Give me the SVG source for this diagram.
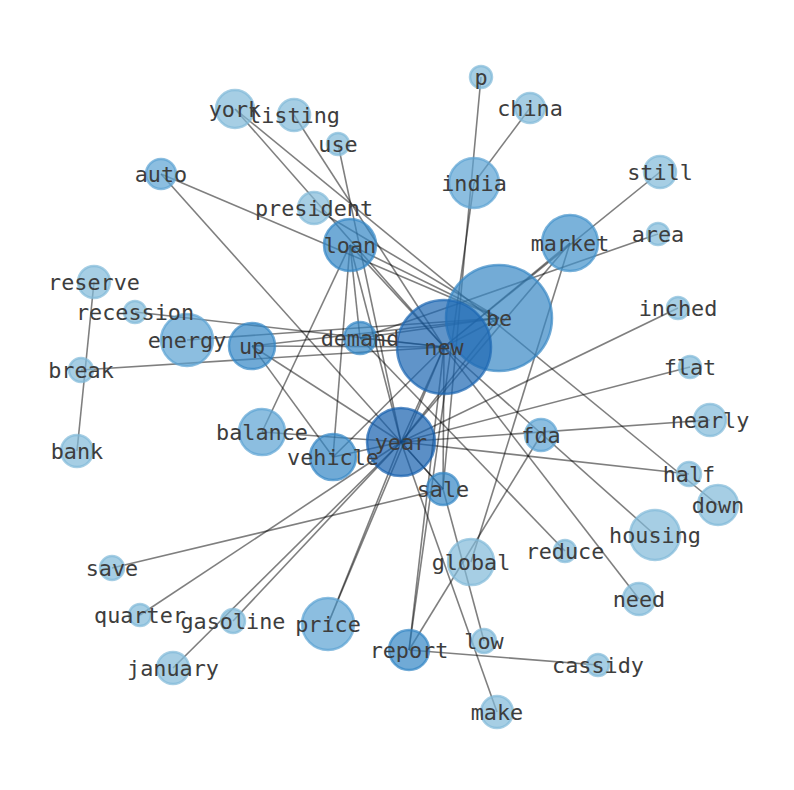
<svg xmlns="http://www.w3.org/2000/svg" width="794" height="790" viewBox="0 0 794 790">
<style>
.e line{stroke:#000;stroke-opacity:0.5;stroke-width:1.6}
circle{stroke-width:2.5;fill-opacity:0.7;stroke-opacity:0.7}
.A{fill:#1c66b2;stroke:#1c66b2}
.Y{fill:#165fae;stroke:#165fae}
.B{fill:#3788c5;stroke:#3788c5}
.C{fill:#3386c5;stroke:#3386c5}
.M{fill:#4191ca;stroke:#4191ca}
.D{fill:#5ba2d3;stroke:#5ba2d3}
.E{fill:#80b9d8;stroke:#80b9d8}
text{font-family:"DejaVu Sans Mono",monospace;font-size:21.8px;fill:#3d3d3d;text-anchor:middle}
</style>
<rect width="794" height="790" fill="#fff"/>
<g id="edges" class="e">
<line x1="530" y1="108" x2="474" y2="183"/>
<line x1="481" y1="77" x2="443" y2="489"/>
<line x1="474" y1="183" x2="409" y2="650"/>
<line x1="235" y1="109" x2="444" y2="347"/>
<line x1="235" y1="109" x2="718" y2="505"/>
<line x1="294" y1="115" x2="444" y2="347"/>
<line x1="338" y1="144" x2="401" y2="442"/>
<line x1="161" y1="174" x2="499" y2="318"/>
<line x1="161" y1="174" x2="443" y2="489"/>
<line x1="314" y1="208" x2="499" y2="318"/>
<line x1="660" y1="172" x2="444" y2="347"/>
<line x1="570" y1="243" x2="444" y2="347"/>
<line x1="570" y1="243" x2="401" y2="442"/>
<line x1="570" y1="243" x2="471" y2="562"/>
<line x1="658" y1="234" x2="360" y2="338"/>
<line x1="350" y1="245" x2="262" y2="432"/>
<line x1="350" y1="245" x2="333" y2="457"/>
<line x1="350" y1="245" x2="401" y2="442"/>
<line x1="350" y1="245" x2="360" y2="338"/>
<line x1="350" y1="245" x2="444" y2="347"/>
<line x1="350" y1="245" x2="499" y2="318"/>
<line x1="94" y1="282" x2="77" y2="451"/>
<line x1="135" y1="312" x2="444" y2="347"/>
<line x1="187" y1="340" x2="499" y2="318"/>
<line x1="252" y1="346" x2="499" y2="318"/>
<line x1="252" y1="346" x2="444" y2="347"/>
<line x1="252" y1="346" x2="401" y2="442"/>
<line x1="252" y1="346" x2="333" y2="457"/>
<line x1="81" y1="370" x2="444" y2="347"/>
<line x1="360" y1="338" x2="499" y2="318"/>
<line x1="360" y1="338" x2="444" y2="347"/>
<line x1="678" y1="308" x2="401" y2="442"/>
<line x1="690" y1="367" x2="401" y2="442"/>
<line x1="710" y1="420" x2="401" y2="442"/>
<line x1="689" y1="474" x2="401" y2="442"/>
<line x1="262" y1="432" x2="401" y2="442"/>
<line x1="333" y1="457" x2="401" y2="442"/>
<line x1="333" y1="457" x2="444" y2="347"/>
<line x1="444" y1="347" x2="401" y2="442"/>
<line x1="444" y1="347" x2="499" y2="318"/>
<line x1="444" y1="347" x2="443" y2="489"/>
<line x1="444" y1="347" x2="655" y2="535"/>
<line x1="444" y1="347" x2="639" y2="599"/>
<line x1="444" y1="347" x2="409" y2="650"/>
<line x1="444" y1="347" x2="328" y2="624"/>
<line x1="401" y1="442" x2="328" y2="624"/>
<line x1="401" y1="442" x2="233" y2="621"/>
<line x1="401" y1="442" x2="173" y2="668"/>
<line x1="401" y1="442" x2="140" y2="615"/>
<line x1="401" y1="442" x2="497" y2="712"/>
<line x1="401" y1="442" x2="499" y2="318"/>
<line x1="401" y1="442" x2="443" y2="489"/>
<line x1="443" y1="489" x2="112" y2="568"/>
<line x1="443" y1="489" x2="484" y2="641"/>
<line x1="541" y1="435" x2="409" y2="650"/>
<line x1="409" y1="650" x2="598" y2="665"/>
<line x1="565" y1="551" x2="360" y2="338"/>
</g>
<g id="nodes">
<g id="n-be"><circle class="B" cx="499" cy="318" r="53"/></g>
<g id="n-new"><circle class="A" cx="444" cy="347" r="47"/></g>
<g id="n-year"><circle class="Y" cx="401" cy="442" r="34"/></g>
<g id="n-p"><circle class="E" cx="481" cy="77" r="11"/></g>
<g id="n-china"><circle class="E" cx="530" cy="108" r="15"/></g>
<g id="n-york"><circle class="E" cx="235" cy="109" r="19"/></g>
<g id="n-listing"><circle class="E" cx="294" cy="115" r="16"/></g>
<g id="n-use"><circle class="E" cx="338" cy="144" r="11"/></g>
<g id="n-india"><circle class="D" cx="474" cy="183" r="25"/></g>
<g id="n-still"><circle class="E" cx="660" cy="172" r="16"/></g>
<g id="n-auto"><circle class="D" cx="161" cy="174" r="15"/></g>
<g id="n-president"><circle class="E" cx="314" cy="208" r="16"/></g>
<g id="n-market"><circle class="M" cx="570" cy="243" r="28"/></g>
<g id="n-area"><circle class="E" cx="658" cy="234" r="11"/></g>
<g id="n-loan"><circle class="C" cx="350" cy="245" r="26"/></g>
<g id="n-reserve"><circle class="E" cx="94" cy="282" r="16"/></g>
<g id="n-recession"><circle class="E" cx="135" cy="312" r="11"/></g>
<g id="n-inched"><circle class="E" cx="678" cy="308" r="11"/></g>
<g id="n-energy"><circle class="D" cx="187" cy="340" r="26"/></g>
<g id="n-up"><circle class="C" cx="252" cy="346" r="23"/></g>
<g id="n-demand"><circle class="C" cx="360" cy="338" r="16"/></g>
<g id="n-break"><circle class="E" cx="81" cy="370" r="12"/></g>
<g id="n-flat"><circle class="E" cx="690" cy="367" r="11"/></g>
<g id="n-nearly"><circle class="E" cx="710" cy="420" r="16"/></g>
<g id="n-balance"><circle class="D" cx="262" cy="432" r="23"/></g>
<g id="n-fda"><circle class="D" cx="541" cy="435" r="16"/></g>
<g id="n-vehicle"><circle class="C" cx="333" cy="457" r="23"/></g>
<g id="n-bank"><circle class="E" cx="77" cy="451" r="16"/></g>
<g id="n-half"><circle class="E" cx="689" cy="474" r="12"/></g>
<g id="n-sale"><circle class="C" cx="443" cy="489" r="16"/></g>
<g id="n-down"><circle class="E" cx="718" cy="505" r="20"/></g>
<g id="n-housing"><circle class="E" cx="655" cy="535" r="25"/></g>
<g id="n-global"><circle class="E" cx="471" cy="562" r="23"/></g>
<g id="n-reduce"><circle class="E" cx="565" cy="551" r="11"/></g>
<g id="n-save"><circle class="E" cx="112" cy="568" r="12"/></g>
<g id="n-quarter"><circle class="E" cx="140" cy="615" r="11"/></g>
<g id="n-gasoline"><circle class="E" cx="233" cy="621" r="12"/></g>
<g id="n-price"><circle class="D" cx="328" cy="624" r="26"/></g>
<g id="n-need"><circle class="E" cx="639" cy="599" r="16"/></g>
<g id="n-report"><circle class="C" cx="409" cy="650" r="20"/></g>
<g id="n-low"><circle class="E" cx="484" cy="641" r="12"/></g>
<g id="n-cassidy"><circle class="E" cx="598" cy="665" r="11"/></g>
<g id="n-january"><circle class="E" cx="173" cy="668" r="16"/></g>
<g id="n-make"><circle class="E" cx="497" cy="712" r="16"/></g>
</g>
<g id="labels">
<text x="481" y="84.5">p</text>
<text x="530" y="115.5">china</text>
<text x="235" y="116.5">york</text>
<text x="294" y="122.5">listing</text>
<text x="338" y="151.5">use</text>
<text x="474" y="190.5">india</text>
<text x="660" y="179.5">still</text>
<text x="161" y="181.5">auto</text>
<text x="314" y="215.5">president</text>
<text x="570" y="250.5">market</text>
<text x="658" y="241.5">area</text>
<text x="350" y="252.5">loan</text>
<text x="94" y="289.5">reserve</text>
<text x="135" y="319.5">recession</text>
<text x="499" y="325.5">be</text>
<text x="678" y="315.5">inched</text>
<text x="187" y="347.5">energy</text>
<text x="252" y="353.5">up</text>
<text x="360" y="345.5">demand</text>
<text x="444" y="354.5">new</text>
<text x="81" y="377.5">break</text>
<text x="690" y="374.5">flat</text>
<text x="710" y="427.5">nearly</text>
<text x="262" y="439.5">balance</text>
<text x="541" y="442.5">fda</text>
<text x="401" y="449.5">year</text>
<text x="333" y="464.5">vehicle</text>
<text x="77" y="458.5">bank</text>
<text x="689" y="481.5">half</text>
<text x="443" y="496.5">sale</text>
<text x="718" y="512.5">down</text>
<text x="655" y="542.5">housing</text>
<text x="471" y="569.5">global</text>
<text x="565" y="558.5">reduce</text>
<text x="112" y="575.5">save</text>
<text x="140" y="622.5">quarter</text>
<text x="233" y="628.5">gasoline</text>
<text x="328" y="631.5">price</text>
<text x="639" y="606.5">need</text>
<text x="409" y="657.5">report</text>
<text x="484" y="648.5">low</text>
<text x="598" y="672.5">cassidy</text>
<text x="173" y="675.5">january</text>
<text x="497" y="719.5">make</text>
</g>
</svg>
